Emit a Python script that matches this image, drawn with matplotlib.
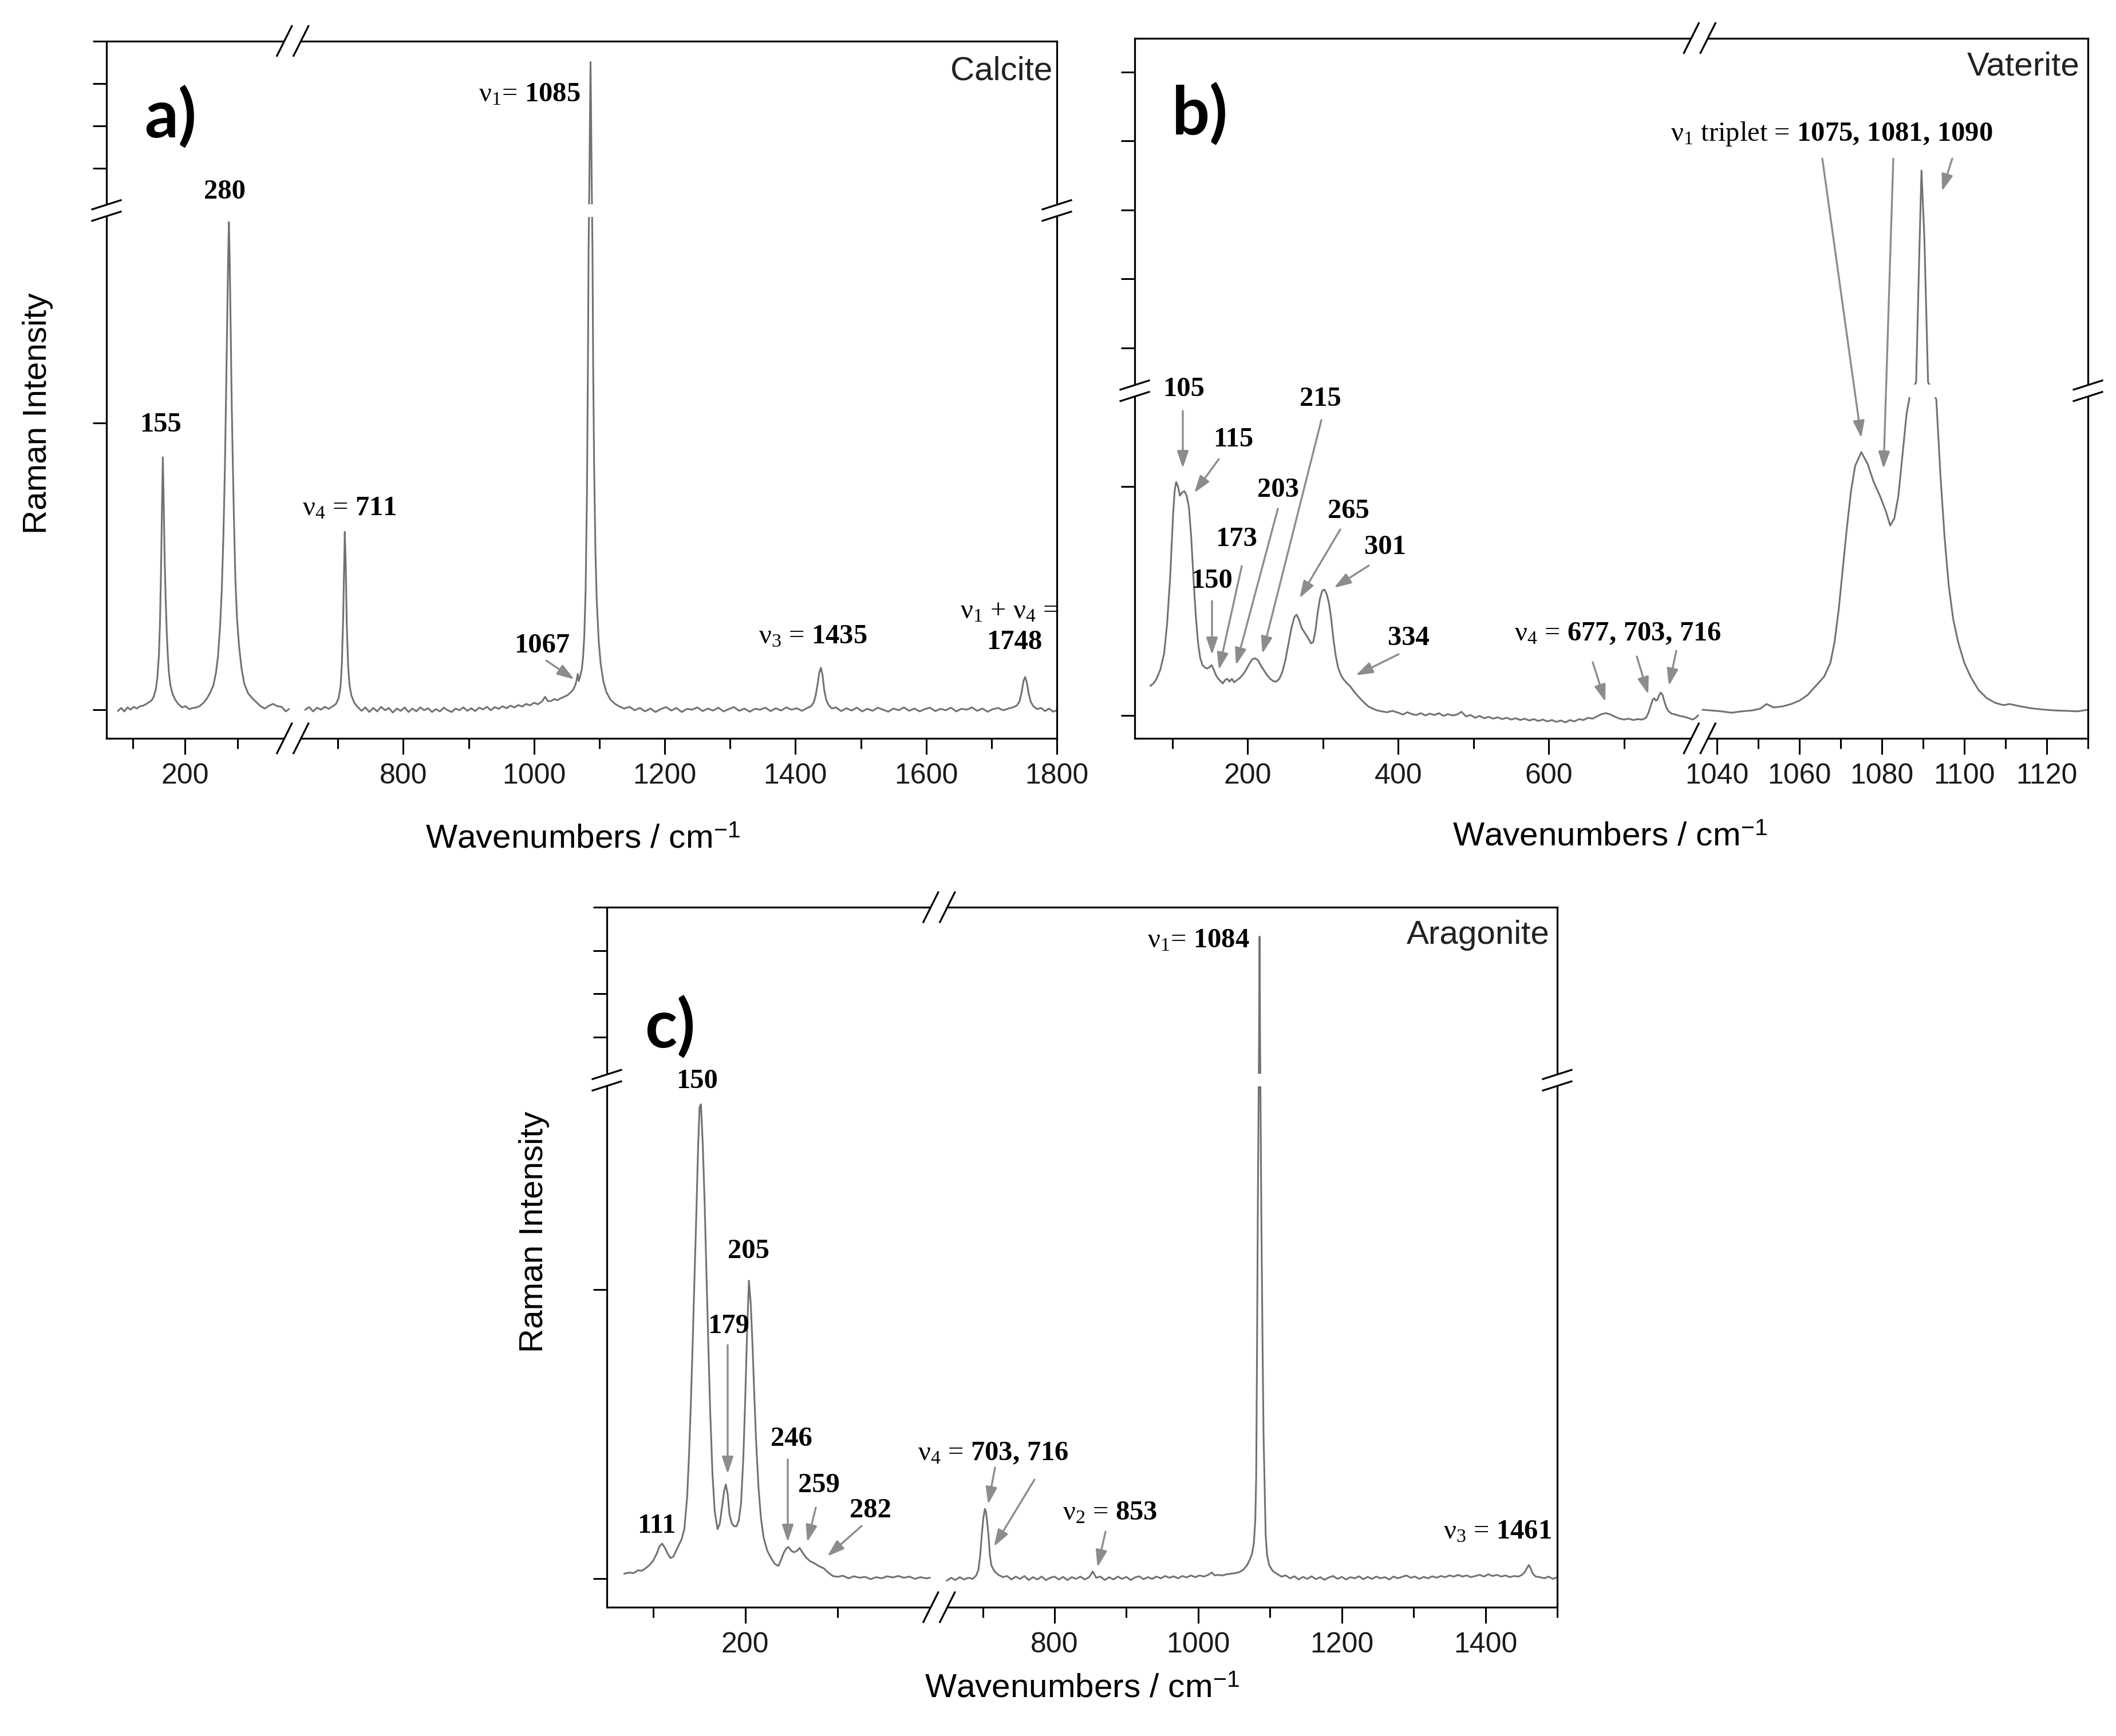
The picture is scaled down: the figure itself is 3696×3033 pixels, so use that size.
import numpy as np
import matplotlib
matplotlib.use("Agg")
import matplotlib.pyplot as plt
from matplotlib.transforms import Affine2D
from matplotlib.patches import Rectangle
from matplotlib.lines import Line2D
from matplotlib.ticker import NullLocator

# ---------------------------------------------------------------- data
# (wavenumber / cm-1, intensity).
# lower y-segment: baseline 0 .. break; upper y-segment values are in the upper-axis units
calcite_lo = [(72,-0.004),(78,0.006),(84,-0.006),(90,0.008),(96,0.0),(102,0.01),(108,0.004),(114,0.012),
    (120,0.014),(126,0.02),(131,0.026),(136,0.032),(140,0.045),(144,0.07),(147,0.11),(150,0.19),(152,0.3),
    (154,0.48),(156,0.72),(157.5,0.88),(159,0.74),(161,0.52),(163,0.38),(165,0.27),(167,0.19),(169,0.13),
    (172,0.085),(176,0.055),(181,0.035),(187,0.02),(194,0.008),(201,0.012),(208,0.002),(215,0.006),(222,0.008),
    (229,0.014),(236,0.026),(242,0.04),(248,0.06),(254,0.085),(259,0.13),(263,0.19),(267,0.3),(270,0.42),
    (273,0.6),(276,0.85),(278,1.08),(280,1.32),(282,1.56),(283.5,1.70),(285,1.58),(287,1.32),(289,1.06),
    (291,0.86),(293,0.68),(296,0.45),(299,0.32),(303,0.22),(308,0.14),(313,0.09),(320,0.058),(328,0.04),
    (336,0.026),(344,0.012),(352,0.004),(360,0.014),(368,0.02),(376,0.012),(384,0.01),(392,-0.006),(398,0.002)]

calcite_hi = [(650,0.0),(656,0.009),(662,-0.006),(668,0.007),(674,0.0),(680,0.01),(686,0.003),(692,0.012),
    (697,0.02),(701,0.04),(704,0.08),(706,0.16),(708,0.32),(709.5,0.5),(710.5,0.62),(712,0.5),(713.5,0.3),
    (715.5,0.16),(717.5,0.09),(720.5,0.05),(725,0.024),(730,0.01),(736,-0.004),(742,0.008),(748,-0.008),
    (754,0.006),(760,-0.006),(766,0.01),(772,-0.002),(778,0.006),(784,-0.01),(790,0.004),(796,-0.004),
    (802,0.008),(808,-0.008),(814,0.004),(820,-0.006),(826,0.008),(832,-0.002),(838,0.005),(844,-0.008),
    (850,0.002),(856,-0.006),(862,0.007),(868,-0.002),(874,-0.008),(880,0.004),(886,-0.002),(892,0.008),
    (898,-0.004),(904,0.005),(910,-0.005),(916,0.007),(922,0.001),(928,0.01),(934,-0.002),(940,0.009),
    (946,0.003),(952,0.012),(958,0.005),(964,0.014),(970,0.008),(976,0.016),(982,0.011),(988,0.02),
    (994,0.015),(1000,0.024),(1006,0.019),(1012,0.028),(1017,0.045),(1021,0.03),(1026,0.03),(1031,0.037),
    (1036,0.033),(1041,0.04),(1046,0.045),(1051,0.05),(1056,0.06),(1060,0.07),(1063,0.085),(1065,0.1),
    (1067,0.125),(1068.5,0.1),(1070.5,0.115),(1073,0.14),(1075,0.18),(1077,0.26),(1079,0.42),(1081,0.75),
    (1082.5,1.2),(1083.5,1.6),(1084.8,2.8),(1085.8,4.5),(1086.5,5.5),(1087.2,4.5),(1088.2,2.8),(1089.5,1.6),
    (1090.5,1.2),(1092,0.85),(1094,0.55),(1096,0.38),(1099,0.24),(1102,0.16),(1106,0.1),(1111,0.06),
    (1117,0.035),(1124,0.02),(1130,0.012),(1138,0.004),(1146,0.01),(1154,-0.002),(1162,0.006),(1170,-0.006),
    (1178,0.004),(1186,-0.008),(1194,0.002),(1202,0.009),(1210,-0.003),(1218,0.006),(1226,-0.008),
    (1234,0.003),(1242,0.0),(1250,0.008),(1258,-0.005),(1266,0.004),(1274,-0.003),(1282,0.007),(1290,-0.006),
    (1298,0.002),(1306,0.009),(1314,-0.004),(1322,0.004),(1330,-0.007),(1338,0.003),(1346,0.0),(1354,0.007),
    (1362,-0.005),(1370,0.005),(1378,-0.003),(1386,0.008),(1394,0.0),(1402,0.005),(1410,-0.004),(1418,0.006),
    (1424,0.012),(1428,0.025),(1431,0.05),(1434,0.09),(1436.5,0.13),(1439,0.146),(1441.5,0.12),(1444,0.07),
    (1447,0.035),(1451,0.015),(1456,0.004),(1462,0.008),(1470,-0.005),(1478,0.005),(1486,-0.003),(1494,0.007),
    (1502,-0.006),(1510,0.003),(1518,-0.004),(1526,0.007),(1534,0.0),(1542,-0.007),(1550,0.004),(1558,-0.002),
    (1566,0.008),(1574,-0.004),(1582,0.004),(1590,-0.006),(1598,0.002),(1606,0.007),(1614,-0.005),
    (1622,0.003),(1630,-0.002),(1638,0.007),(1646,-0.006),(1654,0.003),(1662,0.0),(1670,0.008),(1678,-0.004),
    (1686,0.004),(1694,-0.007),(1702,0.002),(1710,0.006),(1718,-0.002),(1726,0.004),(1733,0.008),(1739,0.015),
    (1743,0.03),(1746,0.06),(1749,0.1),(1751.5,0.114),(1754,0.095),(1757,0.055),(1760,0.028),(1764,0.012),
    (1770,0.002),(1776,0.006),(1782,-0.005),(1788,0.004),(1794,-0.007),(1800,-0.002)]

vaterite_lo = [(71,0.13),(75,0.14),(79,0.16),(84,0.2),(89,0.27),(93,0.4),(97,0.6),(101,0.88),(103,0.98),
    (105,1.02),(107.5,1.0),(110,0.96),(113,0.975),(116,0.98),(119,0.96),(122,0.91),(125,0.78),(128,0.6),
    (131,0.44),(134,0.32),(137,0.25),(140,0.22),(143,0.21),(146,0.205),(149,0.21),(152,0.22),(155,0.2),
    (158,0.175),(161,0.16),(164,0.15),(167,0.14),(170,0.155),(173,0.16),(176,0.148),(179,0.16),(182,0.145),
    (186,0.155),(190,0.165),(194,0.18),(198,0.2),(202,0.225),(206,0.245),(210,0.25),(214,0.24),(218,0.215),
    (222,0.195),(226,0.175),(230,0.16),(234,0.15),(238,0.148),(242,0.16),(246,0.19),(250,0.24),(254,0.31),
    (258,0.38),(262,0.43),(265,0.44),(268,0.42),(272,0.38),(276,0.36),(280,0.34),(284,0.315),(287,0.32),
    (290,0.37),(293,0.45),(296,0.51),(299,0.545),(302,0.55),(305,0.53),(308,0.49),(311,0.42),(314,0.33),
    (317,0.26),(320,0.21),(324,0.175),(328,0.155),(332,0.14),(336,0.128),(340,0.11),(345,0.09),(350,0.072),
    (355,0.055),(360,0.04),(366,0.03),(372,0.022),(378,0.018),(385,0.014),(392,0.02),(400,0.012),(406,0.004),
    (412,0.014),(418,0.006),(424,0.002),(430,0.01),(436,0.0),(442,0.008),(448,0.002),(454,0.01),(460,-0.002),
    (466,0.006),(472,0.0),(478,0.004),(484,0.016),(490,-0.004),(496,0.002),(502,-0.01),(508,-0.002),
    (514,-0.012),(520,-0.006),(526,-0.014),(532,-0.008),(538,-0.016),(544,-0.01),(550,-0.018),(556,-0.012),
    (562,-0.02),(568,-0.014),(574,-0.022),(580,-0.016),(586,-0.024),(592,-0.018),(598,-0.026),(604,-0.02),
    (610,-0.028),(616,-0.022),(622,-0.03),(628,-0.02),(634,-0.026),(640,-0.016),(646,-0.02),(652,-0.01),
    (658,-0.014),(664,-0.004),(670,0.006),(676,0.01),(682,0.004),(688,-0.006),(694,-0.014),(700,-0.018),
    (706,-0.014),(712,-0.02),(718,-0.016),(724,-0.018),(729,-0.01),(732,0.01),(735,0.04),(738,0.07),
    (740,0.075),(742,0.065),(744,0.068),(746,0.085),(748.5,0.1),(751,0.09),(753,0.065),(756,0.035),
    (759,0.018),(763,0.008),(768,0.004),(774,-0.002),(780,-0.006),(786,-0.012),(791,-0.018),(795,-0.01),(798,0.0)]

vaterite_hi = [(1036.5,0.025),(1038.5,0.022),(1041,0.018),(1043.5,0.012),(1046,0.018),(1048.5,0.022),
    (1050.5,0.03),(1052,0.05),(1053.7,0.035),(1056,0.04),(1058,0.05),(1060,0.065),(1062,0.09),(1064,0.13),
    (1066,0.17),(1067.5,0.23),(1068.5,0.32),(1069.5,0.46),(1070.5,0.64),(1071.5,0.82),(1072.5,0.98),
    (1073.5,1.09),(1075,1.15),(1076.5,1.1),(1078,1.02),(1079.5,0.96),(1081,0.89),(1082,0.83),(1083,0.86),
    (1084,0.96),(1085,1.14),(1086,1.32),(1087,1.6),(1088.3,3.5),(1089,5.2),(1089.6,6.57),(1090.3,5.6),
    (1091.2,3.5),(1092.3,1.6),(1093.2,1.38),(1094.2,1.05),(1095.2,0.78),(1096.2,0.57),(1097.3,0.42),
    (1098.5,0.32),(1100,0.23),(1101.5,0.17),(1103.5,0.11),(1105.5,0.075),(1107.5,0.055),(1109.5,0.045),
    (1111,0.05),(1113,0.042),(1116,0.032),(1119,0.026),(1122,0.022),(1125,0.02),(1127.5,0.018),(1130,0.025)]

aragonite_lo = [(69,0.016),(74,0.02),(79,0.018),(84,0.028),(88,0.026),(92,0.035),(96,0.045),(100,0.06),
    (104,0.085),(107,0.11),(110,0.12),(113,0.105),(116,0.085),(119,0.07),(122,0.075),(125,0.095),(128,0.115),
    (131,0.135),(134,0.17),(137,0.28),(139,0.42),(141,0.6),(143,0.81),(145,1.04),(147,1.26),(149,1.5),
    (150.5,1.63),(152,1.64),(154,1.5),(156,1.3),(158,1.05),(160,0.81),(162,0.58),(164.5,0.36),(167,0.23),
    (170,0.17),(172.5,0.19),(175,0.25),(177,0.3),(179,0.325),(181,0.29),(183,0.22),(185.5,0.19),(188,0.18),
    (190.5,0.18),(193,0.2),(195.5,0.26),(198,0.42),(200,0.62),(202,0.85),(204,1.03),(206,0.95),(208,0.8),
    (210,0.62),(212,0.46),(214.5,0.31),(217,0.21),(220,0.14),(224,0.095),(228,0.07),(232,0.05),(236,0.043),
    (239,0.065),(242,0.09),(245,0.105),(247,0.108),(250,0.095),(253,0.09),(256,0.095),(259,0.105),(262,0.09),
    (266,0.072),(270,0.06),(275,0.052),(280,0.042),(285,0.035),(290,0.02),(295,0.008),(300,0.005),(306,0.009),
    (312,0.0),(318,0.007),(324,0.002),(330,0.005),(336,-0.003),(342,0.004),(348,0.0),(354,0.007),(360,0.003),
    (366,0.008),(372,0.002),(378,0.006),(384,-0.002),(390,0.004),(396,0.0),(400,0.002)]

aragonite_hi = [(650,-0.008),(656,0.002),(662,-0.006),(668,0.004),(674,-0.004),(680,0.002),(686,-0.002),
    (691,0.01),(694,0.03),(696.5,0.08),(699,0.16),(701,0.21),(703,0.24),(704.5,0.23),(706,0.2),(708,0.15),
    (710,0.08),(712,0.045),(715,0.03),(718,0.02),(722,0.012),(728,0.004),(734,0.008),(740,-0.004),(746,0.006),
    (752,-0.002),(758,0.008),(764,-0.006),(770,0.004),(776,-0.004),(782,0.006),(788,-0.006),(794,0.002),
    (800,0.006),(806,-0.004),(812,0.005),(818,-0.006),(824,0.004),(830,-0.002),(836,0.006),(842,-0.004),
    (848,0.004),(851,0.014),(853,0.024),(855.5,0.014),(858,0.002),(864,0.006),(870,-0.006),(876,0.004),
    (882,-0.004),(888,0.006),(894,-0.002),(900,0.005),(906,-0.006),(912,0.003),(918,0.007),(924,-0.003),
    (930,0.004),(936,-0.002),(942,0.006),(948,0.0),(954,0.008),(960,0.002),(966,0.007),(972,0.0),(978,0.008),
    (984,0.003),(990,0.01),(996,0.004),(1002,0.01),(1008,0.006),(1014,0.012),(1019,0.02),(1023,0.01),
    (1028,0.012),(1034,0.01),(1040,0.014),(1046,0.016),(1052,0.018),(1058,0.022),(1063,0.03),(1068,0.045),
    (1072,0.065),(1075,0.085),(1077.5,0.12),(1079.5,0.2),(1080.8,0.35),(1082,0.8),(1083,1.25),(1084,1.6),
    (1084.8,3.0),(1085.5,5.32),(1086.2,3.0),(1087,1.6),(1088,1.25),(1089.5,0.85),(1091,0.5),(1092.5,0.33),
    (1094,0.15),(1096,0.08),(1099,0.045),(1104,0.025),(1110,0.015),(1116,0.006),(1122,0.01),(1128,0.0),
    (1134,0.007),(1140,-0.004),(1146,0.005),(1152,-0.002),(1158,0.007),(1164,-0.003),(1170,0.004),
    (1176,-0.005),(1182,0.003),(1188,0.008),(1194,-0.002),(1200,0.005),(1206,-0.004),(1212,0.004),(1218,0.0),
    (1224,0.007),(1230,-0.003),(1236,0.005),(1242,-0.002),(1248,0.006),(1254,0.0),(1260,0.004),(1266,-0.004),
    (1272,0.006),(1278,0.0),(1284,0.005),(1290,0.01),(1296,0.002),(1302,0.006),(1308,-0.002),(1314,0.005),
    (1320,0.0),(1326,0.007),(1332,0.002),(1338,0.008),(1344,0.004),(1350,0.01),(1356,0.006),(1362,0.012),
    (1368,0.006),(1374,0.01),(1380,0.004),(1386,0.008),(1392,0.012),(1398,0.006),(1404,0.014),(1410,0.008),
    (1416,0.012),(1422,0.006),(1428,0.01),(1434,0.004),(1440,0.008),(1446,0.006),(1451,0.012),(1455,0.022),
    (1458,0.036),(1460.5,0.046),(1463,0.034),(1466,0.016),(1470,0.006),(1476,0.004),(1482,0.0),(1488,0.006),
    (1494,-0.002),(1498,0.002)]

# tick values
a_xmaj = [200, 800, 1000, 1200, 1400, 1600, 1800]
a_xmin = [100, 300, 700, 900, 1100, 1300, 1500, 1700]
a_yt = [0, 1, 3, 4, 5, 6]
b_xmaj = [200, 400, 600, 1040, 1060, 1080, 1100, 1120]
b_xmin = [100, 300, 500, 700, 1050, 1070, 1090, 1110, 1130]
b_yt = [0, 1, 4, 5, 6, 7, 8]
c_xmaj = [200, 800, 1000, 1200, 1400]
c_xmin = [100, 300, 700, 900, 1100, 1300, 1500]
c_yt = [0, 1, 3, 4, 5, 6]

# ---------------------------------------------------------------- style
plt.rcParams['font.family'] = ['Liberation Sans', 'DejaVu Sans']
plt.rcParams['mathtext.fontset'] = 'custom'
plt.rcParams['mathtext.rm'] = 'Liberation Serif'
plt.rcParams['mathtext.it'] = 'Liberation Serif:italic'
plt.rcParams['mathtext.bf'] = 'Liberation Serif:bold'
plt.rcParams['mathtext.sf'] = 'Liberation Sans'

W, H = 3696, 3033
fig = plt.figure(figsize=(W / 100, H / 100), dpi=100)
fig.patch.set_facecolor('white')
PX = Affine2D().scale(1.0 / W, -1.0 / H).translate(0, 1) + fig.transFigure

LINE = '#727272'
ARROW = '#8c8c8c'
SERIF = 'Liberation Serif'
NUM = 35
SANS_T = 42
TICK = 36


def pw(xk, pk):
    xk = np.asarray(xk, float)
    pk = np.asarray(pk, float)
    s0 = (pk[1] - pk[0]) / (xk[1] - xk[0])
    s1 = (pk[-1] - pk[-2]) / (xk[-1] - xk[-2])

    def f(v):
        v = np.asarray(v, float)
        out = np.interp(v, xk, pk)
        out = np.where(v < xk[0], pk[0] + (v - xk[0]) * s0, out)
        out = np.where(v > xk[-1], pk[-1] + (v - xk[-1]) * s1, out)
        return out
    return f


def panel(left, bottom, xk, xp, yk, yp, xmaj, xmin, yt):
    w, h = xp[-1], yp[-1]
    ax = fig.add_axes([left / W, 1 - bottom / H, w / W, h / H])
    ax.set_xscale('function', functions=(pw(xk, xp), pw(xp, xk)))
    ax.set_yscale('function', functions=(pw(yk, yp), pw(yp, yk)))
    ax.set_xlim(xk[0], xk[-1])
    ax.set_ylim(yk[0], yk[-1])
    ax.set_xticks(xmaj, [str(v) for v in xmaj])
    ax.set_xticks(xmin, minor=True)
    ax.set_yticks(yt, [''] * len(yt))
    ax.yaxis.set_minor_locator(NullLocator())
    ax.tick_params(axis='x', which='major', direction='out', length=20, width=2.2,
                   pad=11, labelsize=TICK, labelcolor='#1a1a1a')
    ax.tick_params(axis='x', which='minor', direction='out', length=13, width=2.2)
    ax.tick_params(axis='y', which='major', direction='out', length=17, width=2.2)
    for s in ax.spines.values():
        s.set_linewidth(2.3)
    # break decorations
    top = bottom - h
    right = left + w
    bx = left + xp[1] + (xp[2] - xp[1]) / 2
    for sy in (bottom, top):
        ax.add_patch(Rectangle((bx - 14.5, sy - 8), 29, 16, transform=PX, fc='white', ec='none',
                               zorder=2.7, clip_on=False))
        for c in (bx - 14.5, bx + 14.5):
            ax.add_line(Line2D([c - 13, c + 13], [sy + 26, sy - 26], transform=PX, color='black',
                               lw=2.3, zorder=2.8, clip_on=False))
    by = bottom - (yp[1] + (yp[2] - yp[1]) / 2)
    ax.add_patch(Rectangle((left - 8, by - 11), w + 16, 22, transform=PX, fc='white', ec='none',
                           zorder=2.7, clip_on=False))
    for sx in (left, right):
        for c in (by - 10, by + 10):
            ax.add_line(Line2D([sx - 25, sx + 25], [c + 8, c - 8], transform=PX, color='black',
                               lw=2.3, zorder=2.8, clip_on=False))
    return ax


def spec(ax, pts):
    x, y = np.array(pts, float).T
    ax.plot(x, y, color=LINE, lw=2.2, zorder=2, solid_joinstyle='round')


def txt(ax, x, y, s, size=NUM, ha='center', va='center', family=SERIF, weight='normal', **kw):
    ax.text(x, y, s, transform=PX, ha=ha, va=va, fontsize=size, family=family, weight=weight,
            zorder=5, clip_on=False, **kw)


def arr(ax, tail, tip):
    ax.annotate('', xy=tip, xycoords=PX, xytext=tail, textcoords=PX, zorder=5,
                arrowprops=dict(arrowstyle='-|>,head_length=0.9,head_width=0.3', mutation_scale=20,
                                color=ARROW, lw=2.4, shrinkA=0, shrinkB=0))


NU = r'$\mathrm{\nu}_{%s}$'

# ---------------------------------------------------------------- panel a (calcite)
axa = panel(186, 1290, [50, 405, 631, 1800], [0, 325, 325.5, 1660],
            [-0.1, 1.74, 2.0, 6.0], [0, 922, 922.5, 1218.5], a_xmaj, a_xmin, a_yt)
spec(axa, calcite_lo)
spec(axa, calcite_hi)
txt(axa, 298, 205, 'a)', size=84, family='Lato', weight='bold')
txt(axa, 1838, 124, 'Calcite', size=SANS_T, ha='right', family='Liberation Sans', color='#222222')
txt(axa, 280, 742, '155', weight='bold')
txt(axa, 392, 335, '280', weight='bold')
txt(axa, 528, 888, NU % '4' + r' = $\mathbf{711}$', ha='left')
txt(axa, 1014, 165, NU % '1' + r'= $\mathbf{1085}$', ha='right')
txt(axa, 947, 1128, '1067', weight='bold')
arr(axa, (954, 1154), (1003, 1187))
txt(axa, 1420, 1112, NU % '3' + r' = $\mathbf{1435}$')
txt(axa, 1763, 1068, NU % '1' + ' + ' + NU % '4' + ' =')
txt(axa, 1772, 1122, '1748', weight='bold')
txt(axa, 1018, 1466, r'Wavenumbers / cm$^{\mathsf{-1}}$', size=42, family='Liberation Sans')
txt(axa, 66, 722, 'Raman Intensity', size=42, family='Liberation Sans', rotation=90)

# ---------------------------------------------------------------- panel b (vaterite)
axb = panel(1982, 1290, [50, 800, 1035.8, 1130], [0, 986.5, 987, 1665],
            [-0.1, 1.4175, 3.378, 8.49], [0, 607, 607.5, 1223.5], b_xmaj, b_xmin, b_yt)
spec(axb, vaterite_lo)
spec(axb, vaterite_hi)
txt(axb, 2096, 200, 'b)', size=84, family='Lato', weight='bold')
txt(axb, 3633, 117, 'Vaterite', size=SANS_T, ha='right', family='Liberation Sans', color='#222222')
for s, c, tail, tip in [('105', (2068, 680), (2066, 718), (2066, 818)),
                        ('115', (2154, 768), (2129, 802), (2086, 861)),
                        ('150', (2117, 1015), (2117, 1050), (2117, 1144)),
                        ('173', (2160, 942), (2169, 989), (2129, 1170)),
                        ('203', (2232, 856), (2232, 889), (2159, 1162)),
                        ('215', (2306, 697), (2308, 734), (2205, 1142)),
                        ('265', (2355, 893), (2341, 925), (2270, 1045)),
                        ('301', (2419, 956), (2391, 988), (2330, 1027)),
                        ('334', (2460, 1115), (2443, 1143), (2368, 1180))]:
    txt(axb, c[0], c[1], s, weight='bold')
    arr(axb, tail, tip)
txt(axb, 2645, 1107, NU % '4' + r' = $\mathbf{677,\,703,\,716}$', ha='left')
arr(axb, (2782, 1157), (2804, 1226))
arr(axb, (2859, 1147), (2879, 1213))
arr(axb, (2928, 1137), (2915, 1198))
txt(axb, 3481, 234, NU % '1' + r' triplet = $\mathbf{1075,\,1081,\,1090}$', ha='right')
arr(axb, (3183, 277), (3251, 765))
arr(axb, (3307, 277), (3290, 819))
arr(axb, (3410, 277), (3392, 334))
txt(axb, 2812, 1462, r'Wavenumbers / cm$^{\mathsf{-1}}$', size=42, family='Liberation Sans')

# ---------------------------------------------------------------- panel c (aragonite)
axc = panel(1060, 2808, [50, 410, 639.4, 1500], [0, 580, 580.5, 1660],
            [-0.1, 1.723, 2.0, 6.0], [0, 920.5, 921, 1223], c_xmaj, c_xmin, c_yt)
spec(axc, aragonite_lo)
spec(axc, aragonite_hi)
txt(axc, 1170, 1795, 'c)', size=84, family='Lato', weight='bold')
txt(axc, 2707, 1634, 'Aragonite', size=SANS_T, ha='right', family='Liberation Sans', color='#222222')
txt(axc, 1218, 1889, '150', weight='bold')
txt(axc, 1147, 2666, '111', weight='bold')
txt(axc, 1307, 2186, '205', weight='bold')
for s, c, tail, tip in [('179', (1273, 2317), (1271, 2350), (1271, 2575)),
                        ('246', (1382, 2514), (1376, 2550), (1376, 2694)),
                        ('259', (1430, 2595), (1425, 2634), (1410, 2694)),
                        ('282', (1520, 2639), (1505, 2666), (1445, 2719))]:
    txt(axc, c[0], c[1], s, weight='bold')
    arr(axc, tail, tip)
txt(axc, 1603, 2539, NU % '4' + r' = $\mathbf{703,\,716}$', ha='left')
arr(axc, (1738, 2564), (1726, 2628))
arr(axc, (1807, 2585), (1736, 2702))
txt(axc, 1939, 2643, NU % '2' + r' = $\mathbf{853}$')
arr(axc, (1931, 2676), (1917, 2738))
txt(axc, 2182, 1643, NU % '1' + r'= $\mathbf{1084}$', ha='right')
txt(axc, 2710, 2676, NU % '3' + r' = $\mathbf{1461}$', ha='right')
txt(axc, 1890, 2951, r'Wavenumbers / cm$^{\mathsf{-1}}$', size=42, family='Liberation Sans')
txt(axc, 933, 2152, 'Raman Intensity', size=42, family='Liberation Sans', rotation=90)

fig.savefig('out.png', dpi=100, facecolor='white')
